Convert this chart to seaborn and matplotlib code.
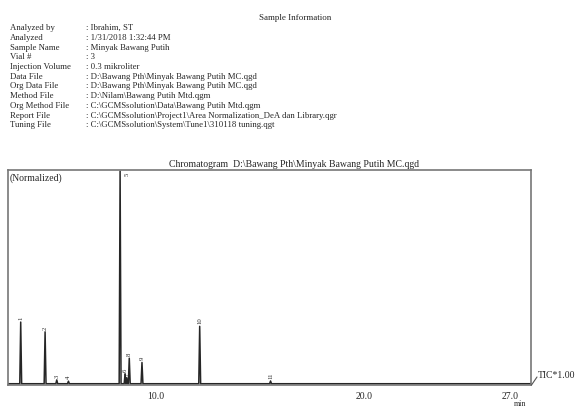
import numpy as np
import pandas as pd
import matplotlib
matplotlib.use("Agg")
import matplotlib.pyplot as plt
import seaborn as sns

# header info
info_labels = ["Analyzed by", "Analyzed", "Sample Name", "Vial #", "Injection Volume",
               "Data File", "Org Data File", "Method File", "Org Method File",
               "Report File", "Tuning File"]
info_values = [": Ibrahim, ST", ": 1/31/2018 1:32:44 PM", ": Minyak Bawang Putih", ": 3",
               ": 0.3 mikroliter",
               ": D:\\Bawang Pth\\Minyak Bawang Putih MC.qgd",
               ": D:\\Bawang Pth\\Minyak Bawang Putih MC.qgd",
               ": D:\\Nilam\\Bawang Putih Mtd.qgm",
               ": C:\\GCMSsolution\\Data\\Bawang Putih Mtd.qgm",
               ": C:\\GCMSsolution\\Project1\\Area Normalization_DeA dan Library.qgr",
               ": C:\\GCMSsolution\\System\\Tune1\\310118 tuning.qgt"]

# peaks (retention time in min, normalized height %)
peak_no = ["1", "2", "3", "4", "5", "6", "7", "8", "9", "10", "11"]
peak_rt = [3.51, 4.68, 5.24, 5.80, 8.28, 8.52, 8.60, 8.72, 9.33, 12.10, 15.50]
peak_h = [29.0, 24.4, 1.8, 1.2, 100.0, 4.7, 2.8, 12.0, 10.0, 27.0, 1.3]

tick_pos = list(range(3, 29))
tick_lab = {10: "10.0", 20: "20.0", 27: "27.0"}

sns.set_style("white")
plt.rcParams["font.family"] = ["Liberation Serif", "DejaVu Serif"]

# build the trace from the peak table
half_w = 0.045
t = [2.9]
y = [0.0]
for rt, h in zip(peak_rt, peak_h):
    t += [rt - half_w, rt, rt + half_w]
    y += [0.0, h, 0.0]
t.append(28.0)
y.append(0.0)
trace = pd.DataFrame({"time": t, "intensity": y}).sort_values("time")

fig = plt.figure(figsize=(5.76, 4.08), dpi=100)

# sample information block
fig.text(295 / 576, 1 - 18 / 408, "Sample Information", ha="center", va="center", fontsize=6.5)
for i, (lab, val) in enumerate(zip(info_labels, info_values)):
    yy = 1 - (28.3 + 9.7 * i) / 408
    fig.text(10 / 576, yy, lab, ha="left", va="center", fontsize=6.3)
    fig.text(86 / 576, yy, val, ha="left", va="center", fontsize=6.3)

ax = fig.add_axes([8 / 576, 1 - 385 / 408, 523 / 576, 215 / 408])
sns.lineplot(data=trace, x="time", y="intensity", ax=ax, color="#262626",
             linewidth=1.1, sort=False, estimator=None)
ax.set_xlim(2.9, 28.0)
ax.set_ylim(-0.6, 100.5)
ax.set_xlabel("")
ax.set_ylabel("")
ax.set_yticks([])
ax.set_xticks(tick_pos)
ax.set_xticklabels([tick_lab.get(p, "") for p in tick_pos], fontsize=7)
ax.tick_params(axis="x", direction="out", length=3, width=0.8, color="#555", pad=2)
for s in ax.spines.values():
    s.set_color("#777")
    s.set_linewidth(1.2)

# peak numbers
for no, rt, h in zip(peak_no, peak_rt, peak_h):
    if h >= 99:
        ax.text(rt + 0.35, 99, no, rotation=90, ha="center", va="top", fontsize=4.8)
    else:
        ax.text(rt, h + 1.0, no, rotation=90, ha="center", va="bottom", fontsize=4.8)

ax.text(0.003, 0.985, "(Normalized)", transform=ax.transAxes, ha="left", va="top", fontsize=7)
ax.set_title("Chromatogram  D:\\Bawang Pth\\Minyak Bawang Putih MC.qgd", fontsize=7, pad=2,
             x=(294 - 8) / 523)

# TIC marker and unit
fig.lines.append(plt.Line2D([531.5 / 576, 537 / 576], [1 - 385 / 408, 1 - 377 / 408],
                            transform=fig.transFigure, color="#555", linewidth=0.8))
fig.text(538 / 576, 1 - 376 / 408, "TIC*1.00", ha="left", va="center", fontsize=7)
fig.text(520 / 576, 1 - 404.5 / 408, "min", ha="center", va="center", fontsize=5.8)

fig.savefig("out.png", dpi=100)
